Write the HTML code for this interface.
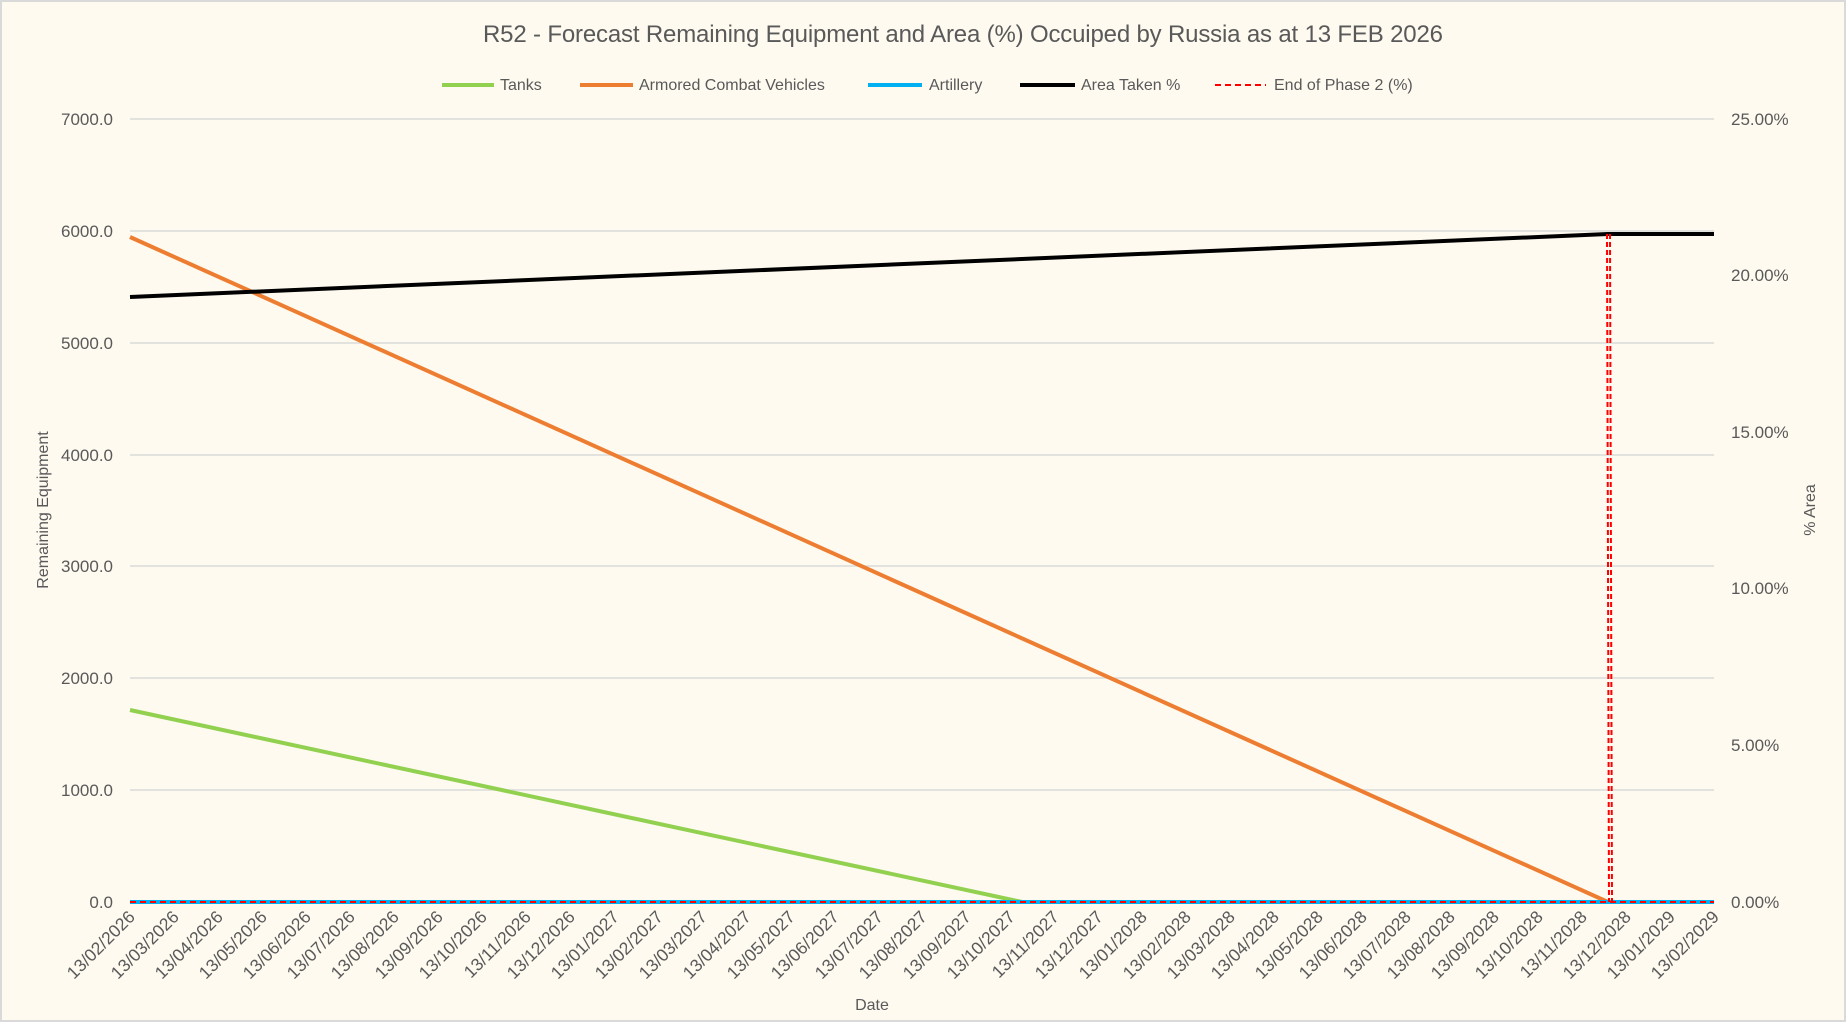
<!DOCTYPE html>
<html><head><meta charset="utf-8"><style>
html,body{margin:0;padding:0;background:#fefaf0;}
svg{display:block;font-family:"Liberation Sans",sans-serif;}
</style></head><body>
<svg width="1846" height="1022" viewBox="0 0 1846 1022" xmlns="http://www.w3.org/2000/svg">
<rect x="1" y="1" width="1844" height="1020" fill="#fefaf0" stroke="#d9d9d9" stroke-width="2"/>
<text x="963" y="42" text-anchor="middle" font-size="24" fill="#595959" textLength="960">R52 - Forecast Remaining Equipment and Area (%) Occuiped by Russia as at 13 FEB 2026</text>
<g font-size="16" fill="#595959">
<line x1="442" y1="85" x2="494" y2="85" stroke="#92d050" stroke-width="4"/><text x="500" y="90">Tanks</text>
<line x1="580" y1="85" x2="633" y2="85" stroke="#ed7d31" stroke-width="4"/><text x="639" y="90">Armored Combat Vehicles</text>
<line x1="868" y1="85" x2="922" y2="85" stroke="#00b0f0" stroke-width="4"/><text x="929" y="90">Artillery</text>
<line x1="1020" y1="85" x2="1075" y2="85" stroke="#000" stroke-width="4"/><text x="1081" y="90">Area Taken %</text>
<line x1="1215" y1="85" x2="1266" y2="85" stroke="#ff0000" stroke-width="2" stroke-dasharray="6,4"/><text x="1274" y="90">End of Phase 2 (%)</text>
</g>
<g stroke="#d9d9d9" stroke-width="1.5">
<line x1="130" y1="119" x2="1714" y2="119"/><line x1="130" y1="231" x2="1714" y2="231"/>
<line x1="130" y1="343" x2="1714" y2="343"/><line x1="130" y1="455" x2="1714" y2="455"/>
<line x1="130" y1="566" x2="1714" y2="566"/><line x1="130" y1="678" x2="1714" y2="678"/>
<line x1="130" y1="790" x2="1714" y2="790"/>
</g>
<g font-size="17" fill="#595959" text-anchor="end">
<text x="113" y="125">7000.0</text><text x="113" y="237">6000.0</text><text x="113" y="349">5000.0</text>
<text x="113" y="461">4000.0</text><text x="113" y="572">3000.0</text><text x="113" y="684">2000.0</text>
<text x="113" y="796">1000.0</text><text x="113" y="908">0.0</text>
</g>
<g font-size="17" fill="#595959">
<text x="1731" y="125">25.00%</text><text x="1731" y="281">20.00%</text><text x="1731" y="438">15.00%</text>
<text x="1731" y="594">10.00%</text><text x="1731" y="751">5.00%</text><text x="1731" y="908">0.00%</text>
</g>
<text transform="translate(48,510) rotate(-90)" text-anchor="middle" font-size="16" fill="#595959">Remaining Equipment</text>
<text transform="translate(1815,510) rotate(-90)" text-anchor="middle" font-size="16" fill="#595959">% Area</text>
<text x="872" y="1010" text-anchor="middle" font-size="16" fill="#595959">Date</text>
<polyline points="130,710 1022,902" fill="none" stroke="#92d050" stroke-width="4"/>
<polyline points="130,237 1608,902" fill="none" stroke="#ed7d31" stroke-width="4"/>
<line x1="130" y1="902" x2="1714" y2="902" stroke="#00b0f0" stroke-width="4"/>
<line x1="130" y1="902" x2="1714" y2="902" stroke="#ff0000" stroke-width="2" stroke-dasharray="6,4"/>
<polyline points="130,297 1608,234 1714,234" fill="none" stroke="#000" stroke-width="4"/>
<line x1="1607" y1="234" x2="1609" y2="902" stroke="#ff0000" stroke-width="2" stroke-dasharray="5,3"/>
<line x1="1610" y1="234" x2="1612" y2="902" stroke="#ff0000" stroke-width="2" stroke-dasharray="5,3"/>
<g font-size="17.5" fill="#595959" text-anchor="end">
<text transform="translate(136,918) rotate(-45)">13/02/2026</text>
<text transform="translate(180,918) rotate(-45)">13/03/2026</text>
<text transform="translate(224,918) rotate(-45)">13/04/2026</text>
<text transform="translate(268,918) rotate(-45)">13/05/2026</text>
<text transform="translate(312,918) rotate(-45)">13/06/2026</text>
<text transform="translate(356,918) rotate(-45)">13/07/2026</text>
<text transform="translate(400,918) rotate(-45)">13/08/2026</text>
<text transform="translate(444,918) rotate(-45)">13/09/2026</text>
<text transform="translate(488,918) rotate(-45)">13/10/2026</text>
<text transform="translate(532,918) rotate(-45)">13/11/2026</text>
<text transform="translate(576,918) rotate(-45)">13/12/2026</text>
<text transform="translate(620,918) rotate(-45)">13/01/2027</text>
<text transform="translate(664,918) rotate(-45)">13/02/2027</text>
<text transform="translate(708,918) rotate(-45)">13/03/2027</text>
<text transform="translate(752,918) rotate(-45)">13/04/2027</text>
<text transform="translate(796,918) rotate(-45)">13/05/2027</text>
<text transform="translate(840,918) rotate(-45)">13/06/2027</text>
<text transform="translate(884,918) rotate(-45)">13/07/2027</text>
<text transform="translate(928,918) rotate(-45)">13/08/2027</text>
<text transform="translate(972,918) rotate(-45)">13/09/2027</text>
<text transform="translate(1016,918) rotate(-45)">13/10/2027</text>
<text transform="translate(1060,918) rotate(-45)">13/11/2027</text>
<text transform="translate(1104,918) rotate(-45)">13/12/2027</text>
<text transform="translate(1148,918) rotate(-45)">13/01/2028</text>
<text transform="translate(1192,918) rotate(-45)">13/02/2028</text>
<text transform="translate(1236,918) rotate(-45)">13/03/2028</text>
<text transform="translate(1280,918) rotate(-45)">13/04/2028</text>
<text transform="translate(1324,918) rotate(-45)">13/05/2028</text>
<text transform="translate(1368,918) rotate(-45)">13/06/2028</text>
<text transform="translate(1412,918) rotate(-45)">13/07/2028</text>
<text transform="translate(1456,918) rotate(-45)">13/08/2028</text>
<text transform="translate(1500,918) rotate(-45)">13/09/2028</text>
<text transform="translate(1544,918) rotate(-45)">13/10/2028</text>
<text transform="translate(1588,918) rotate(-45)">13/11/2028</text>
<text transform="translate(1632,918) rotate(-45)">13/12/2028</text>
<text transform="translate(1676,918) rotate(-45)">13/01/2029</text>
<text transform="translate(1720,918) rotate(-45)">13/02/2029</text>
</g>
</svg>
</body></html>
